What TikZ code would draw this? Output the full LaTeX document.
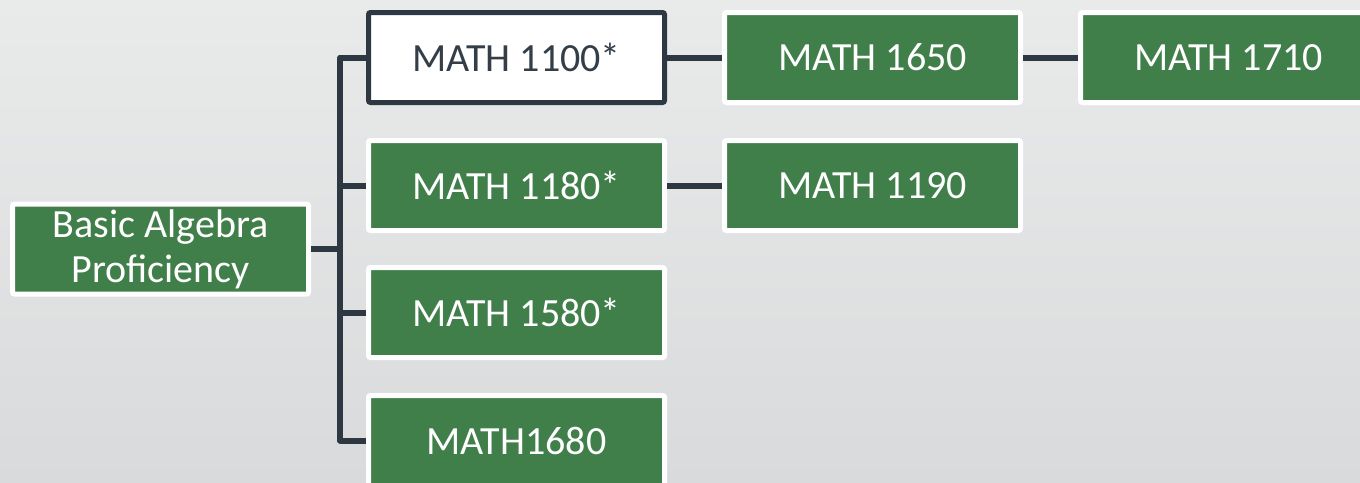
\documentclass[tikz,border=0pt]{standalone}
\usepackage{fontspec}
\setmainfont{Carlito}
\definecolor{bggtop}{RGB}{233,234,234}
\definecolor{bggbot}{RGB}{217,218,219}
\definecolor{boxgreen}{RGB}{64,126,74}
\definecolor{linedark}{RGB}{45,56,66}
\definecolor{textdark}{RGB}{52,62,72}
\begin{document}
\begin{tikzpicture}[x=1pt,y=-1pt,
  course/.style={draw=white,fill=boxgreen,line width=5pt,rounded corners=2pt,
    minimum width=296pt,minimum height=90pt,inner sep=0pt,text=white,
    font=\fontsize{40}{45}\selectfont,align=center},
  open/.style={course,draw=linedark,fill=white,text=textdark},
  conn/.style={draw=linedark,line width=6pt,line join=round}]
\useasboundingbox (0,0) rectangle (1360,482);
\shade[top color=bggtop,bottom color=bggbot] (0,0) rectangle (1360,482);
\node[course] (basic) at (160.5,249) {Basic Algebra\\Proficiency};
\node[open] (m1100) at (516.5,57.5) {MATH 1100*};
\node[course] (m1180) at (516.5,185.5) {MATH 1180*};
\node[course] (m1580) at (516.5,312.5) {MATH 1580*};
\node[course] (m1680) at (516.5,440.5) {MATH1680};
\node[course] (m1650) at (872.5,57.5) {MATH 1650};
\node[course] (m1190) at (872.5,185.5) {MATH 1190};
\node[course] (m1710) at (1228.5,57.5) {MATH 1710};
\coordinate (tx) at (340,249);
\draw[conn] (basic.east) -- (tx);
\draw[conn] (m1100.west) -| (tx) |- (m1680.west);
\draw[conn] (m1180.west) -- (m1180.west -| tx);
\draw[conn] (m1580.west) -- (m1580.west -| tx);
\draw[conn] (m1100.east) -- (m1650.west);
\draw[conn] (m1650.east) -- (m1710.west);
\draw[conn] (m1180.east) -- (m1190.west);
\end{tikzpicture}
\end{document}
